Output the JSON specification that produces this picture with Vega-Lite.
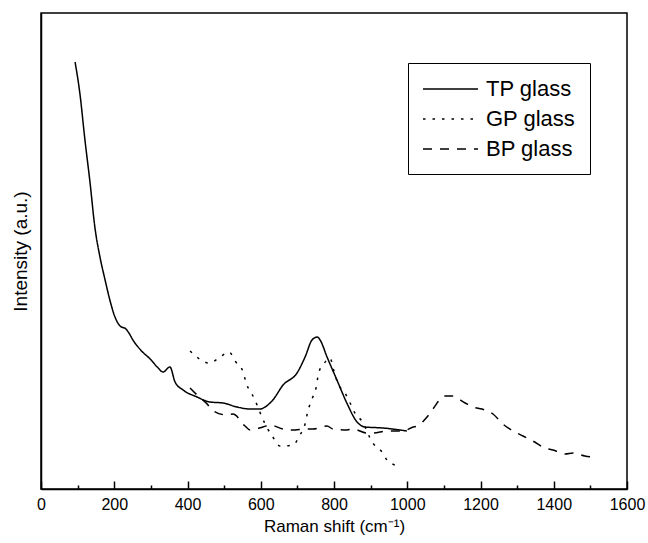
{
  "$schema": "https://vega.github.io/schema/vega-lite/v6.json",
  "width": 586,
  "height": 476,
  "autosize": {"type": "none"},
  "padding": {"left": 41, "top": 13, "right": 21, "bottom": 54},
  "config": {
    "font": "Liberation Sans",
    "view": {"stroke": "black", "strokeWidth": 1.5}
  },
  "data": {
    "values": [
      {"series": "TP glass", "shift": 93, "intensity": 427},
      {"series": "TP glass", "shift": 106, "intensity": 396},
      {"series": "TP glass", "shift": 120, "intensity": 349},
      {"series": "TP glass", "shift": 134, "intensity": 306},
      {"series": "TP glass", "shift": 147, "intensity": 262},
      {"series": "TP glass", "shift": 161, "intensity": 232},
      {"series": "TP glass", "shift": 175, "intensity": 209},
      {"series": "TP glass", "shift": 188, "intensity": 189},
      {"series": "TP glass", "shift": 202, "intensity": 172},
      {"series": "TP glass", "shift": 216, "intensity": 163},
      {"series": "TP glass", "shift": 232, "intensity": 160},
      {"series": "TP glass", "shift": 240, "intensity": 156},
      {"series": "TP glass", "shift": 251, "intensity": 149},
      {"series": "TP glass", "shift": 272, "intensity": 139},
      {"series": "TP glass", "shift": 298, "intensity": 130},
      {"series": "TP glass", "shift": 320, "intensity": 121},
      {"series": "TP glass", "shift": 333, "intensity": 117},
      {"series": "TP glass", "shift": 352, "intensity": 122},
      {"series": "TP glass", "shift": 366, "intensity": 107},
      {"series": "TP glass", "shift": 388, "intensity": 99},
      {"series": "TP glass", "shift": 426, "intensity": 92},
      {"series": "TP glass", "shift": 461, "intensity": 87},
      {"series": "TP glass", "shift": 497, "intensity": 86},
      {"series": "TP glass", "shift": 535, "intensity": 82},
      {"series": "TP glass", "shift": 571, "intensity": 80},
      {"series": "TP glass", "shift": 598, "intensity": 80},
      {"series": "TP glass", "shift": 612, "intensity": 82},
      {"series": "TP glass", "shift": 633, "intensity": 89},
      {"series": "TP glass", "shift": 661, "intensity": 104},
      {"series": "TP glass", "shift": 699, "intensity": 116},
      {"series": "TP glass", "shift": 721, "intensity": 132},
      {"series": "TP glass", "shift": 740, "intensity": 149},
      {"series": "TP glass", "shift": 754, "intensity": 152},
      {"series": "TP glass", "shift": 762, "intensity": 149},
      {"series": "TP glass", "shift": 781, "intensity": 132},
      {"series": "TP glass", "shift": 808, "intensity": 109},
      {"series": "TP glass", "shift": 835, "intensity": 86},
      {"series": "TP glass", "shift": 863, "intensity": 67},
      {"series": "TP glass", "shift": 885, "intensity": 62},
      {"series": "TP glass", "shift": 934, "intensity": 61},
      {"series": "TP glass", "shift": 999, "intensity": 58},

      {"series": "GP glass", "shift": 407, "intensity": 138},
      {"series": "GP glass", "shift": 429, "intensity": 131},
      {"series": "GP glass", "shift": 459, "intensity": 126},
      {"series": "GP glass", "shift": 486, "intensity": 131},
      {"series": "GP glass", "shift": 513, "intensity": 137},
      {"series": "GP glass", "shift": 532, "intensity": 127},
      {"series": "GP glass", "shift": 552, "intensity": 117},
      {"series": "GP glass", "shift": 560, "intensity": 106},
      {"series": "GP glass", "shift": 576, "intensity": 95},
      {"series": "GP glass", "shift": 590, "intensity": 84},
      {"series": "GP glass", "shift": 603, "intensity": 72},
      {"series": "GP glass", "shift": 633, "intensity": 52},
      {"series": "GP glass", "shift": 653, "intensity": 43},
      {"series": "GP glass", "shift": 688, "intensity": 44},
      {"series": "GP glass", "shift": 707, "intensity": 54},
      {"series": "GP glass", "shift": 721, "intensity": 65},
      {"series": "GP glass", "shift": 728, "intensity": 77},
      {"series": "GP glass", "shift": 740, "intensity": 90},
      {"series": "GP glass", "shift": 751, "intensity": 101},
      {"series": "GP glass", "shift": 758, "intensity": 116},
      {"series": "GP glass", "shift": 772, "intensity": 125},
      {"series": "GP glass", "shift": 789, "intensity": 131},
      {"series": "GP glass", "shift": 799, "intensity": 119},
      {"series": "GP glass", "shift": 810, "intensity": 106},
      {"series": "GP glass", "shift": 830, "intensity": 96},
      {"series": "GP glass", "shift": 844, "intensity": 86},
      {"series": "GP glass", "shift": 857, "intensity": 76},
      {"series": "GP glass", "shift": 876, "intensity": 68},
      {"series": "GP glass", "shift": 906, "intensity": 46},
      {"series": "GP glass", "shift": 931, "intensity": 37},
      {"series": "GP glass", "shift": 947, "intensity": 28},
      {"series": "GP glass", "shift": 977, "intensity": 23},

      {"series": "BP glass", "shift": 407, "intensity": 101},
      {"series": "BP glass", "shift": 426, "intensity": 94},
      {"series": "BP glass", "shift": 456, "intensity": 84},
      {"series": "BP glass", "shift": 467, "intensity": 79},
      {"series": "BP glass", "shift": 508, "intensity": 74},
      {"series": "BP glass", "shift": 524, "intensity": 75},
      {"series": "BP glass", "shift": 557, "intensity": 63},
      {"series": "BP glass", "shift": 571, "intensity": 59},
      {"series": "BP glass", "shift": 606, "intensity": 62},
      {"series": "BP glass", "shift": 625, "intensity": 64},
      {"series": "BP glass", "shift": 661, "intensity": 60},
      {"series": "BP glass", "shift": 685, "intensity": 59},
      {"series": "BP glass", "shift": 726, "intensity": 60},
      {"series": "BP glass", "shift": 743, "intensity": 60},
      {"series": "BP glass", "shift": 781, "intensity": 63},
      {"series": "BP glass", "shift": 797, "intensity": 60},
      {"series": "BP glass", "shift": 835, "intensity": 59},
      {"series": "BP glass", "shift": 852, "intensity": 60},
      {"series": "BP glass", "shift": 890, "intensity": 56},
      {"series": "BP glass", "shift": 906, "intensity": 56},
      {"series": "BP glass", "shift": 945, "intensity": 58},
      {"series": "BP glass", "shift": 988, "intensity": 58},
      {"series": "BP glass", "shift": 1016, "intensity": 62},
      {"series": "BP glass", "shift": 1027, "intensity": 63},
      {"series": "BP glass", "shift": 1054, "intensity": 72},
      {"series": "BP glass", "shift": 1070, "intensity": 80},
      {"series": "BP glass", "shift": 1103, "intensity": 93},
      {"series": "BP glass", "shift": 1122, "intensity": 93},
      {"series": "BP glass", "shift": 1158, "intensity": 86},
      {"series": "BP glass", "shift": 1180, "intensity": 82},
      {"series": "BP glass", "shift": 1212, "intensity": 79},
      {"series": "BP glass", "shift": 1234, "intensity": 75},
      {"series": "BP glass", "shift": 1261, "intensity": 65},
      {"series": "BP glass", "shift": 1289, "intensity": 58},
      {"series": "BP glass", "shift": 1316, "intensity": 53},
      {"series": "BP glass", "shift": 1343, "intensity": 48},
      {"series": "BP glass", "shift": 1376, "intensity": 41},
      {"series": "BP glass", "shift": 1398, "intensity": 39},
      {"series": "BP glass", "shift": 1431, "intensity": 35},
      {"series": "BP glass", "shift": 1453, "intensity": 36},
      {"series": "BP glass", "shift": 1485, "intensity": 33},
      {"series": "BP glass", "shift": 1504, "intensity": 32}
    ]
  },
  "mark": {"type": "line", "color": "black", "strokeWidth": 1.5, "interpolate": "monotone"},
  "encoding": {
    "x": {
      "field": "shift",
      "type": "quantitative",
      "scale": {"domain": [0, 1600], "nice": false},
      "axis": {
        "values": [0, 100, 200, 300, 400, 500, 600, 700, 800, 900, 1000, 1100, 1200, 1300, 1400, 1500, 1600],
        "format": "d",
        "labelExpr": "datum.value % 200 === 0 ? datum.label : ''",
        "tickSize": {"condition": {"test": "datum.value % 200 === 0", "value": -8}, "value": -4},
        "tickColor": "black",
        "tickWidth": 1.5,
        "ticks": true,
        "domainColor": "black",
        "domainWidth": 1.5,
        "grid": false,
        "labelColor": "black",
        "labelFontSize": 16,
        "labelPadding": 15,
        "labelFlush": false,
        "labelOverlap": false,
        "title": "Raman shift (cm⁻¹)",
        "titleColor": "black",
        "titleFontSize": 17,
        "titleFontWeight": "normal",
        "titlePadding": 2
      }
    },
    "y": {
      "field": "intensity",
      "type": "quantitative",
      "scale": {"domain": [0, 476], "nice": false, "zero": true},
      "axis": {
        "labels": false,
        "ticks": false,
        "grid": false,
        "domainColor": "black",
        "domainWidth": 1.5,
        "title": "Intensity (a.u.)",
        "titleColor": "black",
        "titleFontSize": 19,
        "titleFontWeight": "normal",
        "titlePadding": 11
      }
    },
    "strokeDash": {
      "field": "series",
      "type": "nominal",
      "scale": {
        "domain": ["TP glass", "GP glass", "BP glass"],
        "range": [[1, 0], [2.5, 7], [9, 8]]
      },
      "legend": {
        "title": null,
        "orient": "none",
        "legendX": 367,
        "legendY": 50,
        "symbolType": "M-1,0H4",
        "symbolSize": 484,
        "symbolStrokeColor": "black",
        "symbolFillColor": "transparent",
        "symbolStrokeWidth": 1.5,
        "labelFontSize": 22,
        "labelColor": "black",
        "labelOffset": 40,
        "rowPadding": 7,
        "padding": 14,
        "strokeColor": "black",
        "fillColor": "white"
      }
    }
  }
}
